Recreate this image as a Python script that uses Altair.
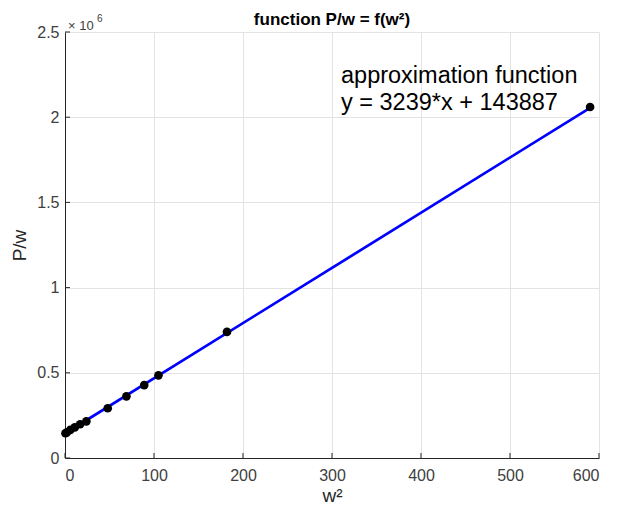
import altair as alt
import pandas as pd

# measured points
w2 = [0.5, 2, 6, 11, 17, 24, 48, 69, 89, 105, 182, 590]
pw = [145000, 150000, 165000, 180000, 198000, 215000, 292000, 362000, 428000, 485000, 740000, 2060000]

# approximation line endpoints
line_x = [0, 590]
line_y = [143887, 2054897]

x_ticks = [0, 100, 200, 300, 400, 500, 600]
y_ticks = [0, 500000, 1000000, 1500000, 2000000, 2500000]

W, H = 534, 426
FONT = "Liberation Sans"
AX = "#262626"

pts = pd.DataFrame({"x": w2, "y": pw})
ln = pd.DataFrame({"x": line_x, "y": line_y})
xt = pd.DataFrame({"x": x_ticks})
yt = pd.DataFrame({"y": y_ticks})
one = pd.DataFrame({"k": [0]})

xs = alt.Scale(domain=[0, 600], nice=False)
ys = alt.Scale(domain=[0, 2500000], nice=False)

xaxis = alt.Axis(values=x_ticks, title="w²", grid=True, gridColor="#e3e3e3",
                 domainColor=AX, tickSize=0, labelPadding=9, labelFontSize=16,
                 labelColor="#404040", labelFont=FONT, titleFont=FONT,
                 titleFontSize=19, titleFontWeight="normal", titleColor="#262626",
                 titlePadding=3)
yaxis = alt.Axis(values=y_ticks, title="P/w", grid=True, gridColor="#e3e3e3",
                 domainColor=AX, tickSize=0, labelPadding=6, labelFontSize=16,
                 labelColor="#404040", labelFont=FONT, titleFont=FONT,
                 titleFontSize=19, titleFontWeight="normal", titleColor="#262626",
                 titlePadding=7, labelExpr="datum.value / 1000000")

X = alt.X("x:Q", scale=xs, axis=xaxis)
Y = alt.Y("y:Q", scale=ys, axis=yaxis)

base_line = alt.Chart(ln).mark_line(color="#0000ff", strokeWidth=2.7).encode(x=X, y=Y)

points = alt.Chart(pts).mark_circle(color="black", opacity=1, size=75).encode(x=X, y=Y)

xtick = alt.Chart(xt).mark_rule(color=AX, strokeWidth=1).encode(
    x=X, y=alt.value(H), y2=alt.value(H - 5),
)
ytick = alt.Chart(yt).mark_rule(color=AX, strokeWidth=1).encode(
    y=Y, x=alt.value(0), x2=alt.value(5),
)

def label(text, x, y, size, weight="normal", align="left", color="black"):
    return alt.Chart(one).mark_text(align=align, baseline="alphabetic", fontSize=size,
                                    font=FONT, color=color, fontWeight=weight,
                                    text=text).encode(x=alt.value(x), y=alt.value(y))

ann1 = label("approximation function", 276, 51, 23.5)
ann2 = label("y = 3239*x + 143887", 276, 78, 23.5)
expo1 = label("× 10", 3, -2, 13, color="#404040")
expo2 = label("6", 32, -10, 10, color="#404040")
title = label("function P/w = f(w²)", W / 2, -7, 17, weight="bold", align="center")

chart = alt.layer(base_line, points, xtick, ytick, ann1, ann2, expo1, expo2, title).properties(
    width=W, height=H,
    autosize=alt.AutoSizeParams(type="none"),
    padding={"left": 57, "top": 24, "right": 20, "bottom": 52},
    background="white",
).configure_view(stroke=None)

chart.save("out.html", embed_options={"renderer": "svg", "actions": False})
